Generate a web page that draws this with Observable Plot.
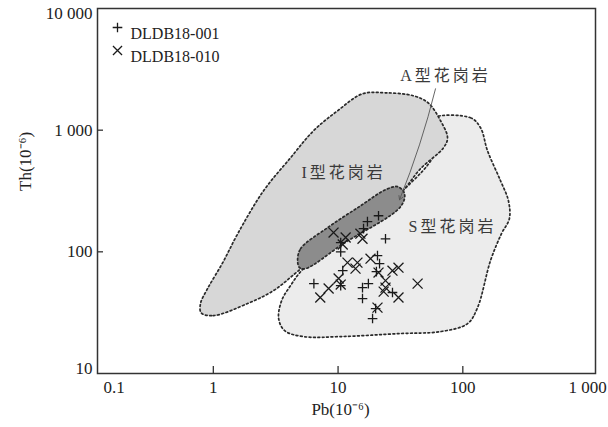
<!DOCTYPE html>
<html>
<head>
<meta charset="utf-8">
<script src="https://cdn.jsdelivr.net/npm/d3@7"></script>
<script src="https://cdn.jsdelivr.net/npm/@observablehq/plot@0.6"></script>
<style>
  html, body { margin: 0; padding: 0; background: #fff; }
  #chart svg { display: block; }
</style>
</head>
<body>
<div id="chart"></div>
<script>
// ---- data (Pb, Th in ppm) ----
const sample001Pb = [21.1, 17.2, 16.0, 24.0, 10.5, 10.5, 20.7, 21.5, 10.9, 6.4, 15.7, 17.5, 20.3, 15.7, 20.0, 18.9, 27.3, 10.5];
const sample001Th = [198, 177, 155, 128, 119, 100, 93, 80, 70, 54.8, 50.8, 54.8, 68.7, 41.3, 34.2, 28.3, 46.3, 52.8];

const sample010Pb = [9.2, 11.5, 15.1, 15.7, 10.9, 11.9, 14.3, 13.8, 18.2, 21.1, 27.3, 30.5, 10.1, 10.5, 8.4, 7.2, 24.0, 23.2, 30.5, 43.4, 20.7, 24.0];
const sample010Th = [144, 131, 141, 128, 115, 81.5, 81.5, 72.8, 87.9, 67.5, 70, 74.1, 60.3, 53.8, 49.9, 42.1, 50.8, 47.1, 42.1, 54.8, 34.8, 58];

// field outlines
const iTypePb = [0.80, 1.0, 1.883, 3.04, 4.83, 12.6, 31.7, 45.8, 70.0, 75.4, 66.3, 53.1, 40.3, 24.0, 15.7, 9.91, 6.36, 4.16, 2.53, 1.57, 1.19, 0.90, 0.79];
const iTypeTh = [31.5, 29.9, 37.6, 48.0, 70.1, 155, 306, 482, 717, 866, 1195, 1666, 1916, 2028, 1990, 1443, 989, 593, 318, 141, 81.5, 49.9, 37.6];

const sTypePb = [58.2, 115.3, 138.7, 157.7, 200.5, 232.0, 236.0, 204.0, 166.7, 131.2, 109.1, 66.3, 31.7, 10.47, 5.29, 3.73, 3.34, 3.53, 4.16, 5.29, 31.7, 60.4, 55.1];
const sTypeTh = [1264, 1264, 1046, 677, 384, 263, 187, 141, 84.7, 34.8, 25.7, 22.1, 21.3, 20.1, 20.1, 22.5, 28.3, 39.7, 52.8, 72.8, 306, 677, 1087];

const aTypePb = [4.74, 5.01, 8.24, 15.15, 24.0, 30.0, 34.1, 31.7, 11.07, 5.49, 4.91];
const aTypeTh = [84.7, 106.2, 158, 239, 324, 343, 300, 235, 117, 72.8, 74.2];

const zoneLabels = ["A型花岗岩", "I型花岗岩", "S型花岗岩"];
const zoneLabelPb = [72.7, 11.07, 82.7];
const zoneLabelTh = [2797, 447, 161];

const arrowFrom = {pb: 60.4, th: 2188};
const arrowTo = {pb: 31.1, th: 268};

const legendLabels = ["DLDB18-001", "DLDB18-010"];

const xTickValues = [1, 10, 100, 1000];
const xTickMarks = [1, 10, 100];
const yTickValues = [100, 1000];
const yTickMarks = [100, 1000];
const yTopLabel = [10000];
const yBottomLabel = [10];
const xEdgeLabel = ["0.1"];
const xTitle = ["Pb(10⁻⁶)"];
const yTitle = ["Th(10⁻⁶)"];

// ---- build tables ----
const pts = (xs, ys) => xs.map((x, i) => ({pb: x, th: ys[i]}));
const s001 = pts(sample001Pb, sample001Th);
const s010 = pts(sample010Pb, sample010Th);
const iField = pts(iTypePb, iTypeTh);
const sField = pts(sTypePb, sTypeTh);
const aField = pts(aTypePb, aTypeTh);
const zones = zoneLabels.map((t, i) => ({t, pb: zoneLabelPb[i], th: zoneLabelTh[i]}));

const fmt = d => String(d).replace(/\B(?=(\d{3})+(?!\d))/g, " ");
const dotted = {stroke: "#2a2a2a", strokeWidth: 1.7, strokeDasharray: "1.8,2.6", curve: "catmull-rom-closed"};
const serif = "'Liberation Serif', 'Noto Sans CJK SC', serif";

const chart = Plot.plot({
  width: 608,
  height: 427,
  marginLeft: 97,
  marginRight: 13,
  marginTop: 8,
  marginBottom: 54,
  style: {fontFamily: serif, fontSize: "17px", color: "#222", background: "#fff"},
  x: {type: "log", domain: [0.118, 1157]},
  y: {type: "log", domain: [10, 10000]},
  marks: [
    Plot.line(sField, {x: "pb", y: "th", fill: "#ececec", ...dotted}),
    Plot.line(iField, {x: "pb", y: "th", fill: "#d7d7d7", ...dotted}),
    Plot.line(aField, {x: "pb", y: "th", fill: "#8c8c8c", ...dotted}),
    Plot.arrow([{}], {x1: () => arrowFrom.pb, y1: () => arrowFrom.th, x2: () => arrowTo.pb, y2: () => arrowTo.th,
      stroke: "#555", strokeWidth: 0.9, headLength: 7, bend: 4}),
    Plot.text(zones, {x: "pb", y: "th", text: "t", fontSize: 16, fill: "#3a3a3a", fontFamily: serif}),
    Plot.dot(s001, {x: "pb", y: "th", symbol: "plus", r: 3.2, stroke: "#1a1a1a", strokeWidth: 1.3}),
    Plot.dot(s010, {x: "pb", y: "th", symbol: "times", r: 4.6, stroke: "#1a1a1a", strokeWidth: 1.3}),
    // tick marks (inside)
    Plot.tickX(xTickMarks, {x: d => d, insetTop: 358, stroke: "#222", strokeWidth: 1.2}),
    Plot.tickY(yTickMarks, {y: d => d, insetRight: 492, stroke: "#222", strokeWidth: 1.2}),
    // tick labels
    Plot.axisX({ticks: xTickValues, tickSize: 0, tickPadding: 7, tickFormat: fmt, label: null, fontSize: 17}),
    Plot.text(xEdgeLabel, {frameAnchor: "bottom-left", text: d => d, dx: 6, dy: 7, lineAnchor: "top", fontSize: 17}),
    Plot.axisY({ticks: yTickValues, tickSize: 0, tickPadding: 5, tickFormat: fmt, label: null, fontSize: 17}),
    Plot.axisY({ticks: yTopLabel, tickSize: 0, tickPadding: 5, tickFormat: fmt, label: null, fontSize: 17, dy: 5}),
    Plot.axisY({ticks: yBottomLabel, tickSize: 0, tickPadding: 5, tickFormat: fmt, label: null, fontSize: 17, dy: -5}),
    // axis titles
    Plot.text(xTitle, {frameAnchor: "bottom", text: d => d, dx: -6, dy: 41, fontSize: 17}),
    Plot.text(yTitle, {frameAnchor: "left", text: d => d, rotate: -90, dx: -72, fontSize: 17}),
    // legend
    Plot.dot([legendLabels[0]], {frameAnchor: "top-left", dx: 20, dy: 19, symbol: "plus", r: 3.2, stroke: "#1a1a1a", strokeWidth: 1.3}),
    Plot.text([legendLabels[0]], {frameAnchor: "top-left", text: d => d, dx: 33, dy: 19, textAnchor: "start", fontSize: 16}),
    Plot.dot([legendLabels[1]], {frameAnchor: "top-left", dx: 20, dy: 42, symbol: "times", r: 4.2, stroke: "#1a1a1a", strokeWidth: 1.3}),
    Plot.text([legendLabels[1]], {frameAnchor: "top-left", text: d => d, dx: 33, dy: 42, textAnchor: "start", fontSize: 16}),
    Plot.frame({stroke: "#333", strokeWidth: 1.5})
  ]
});

document.getElementById("chart").appendChild(chart);
d3.select(chart).selectAll("text")
  .filter(function () { return /型/.test(this.textContent); })
  .attr("letter-spacing", "3");
</script>
</body>
</html>
